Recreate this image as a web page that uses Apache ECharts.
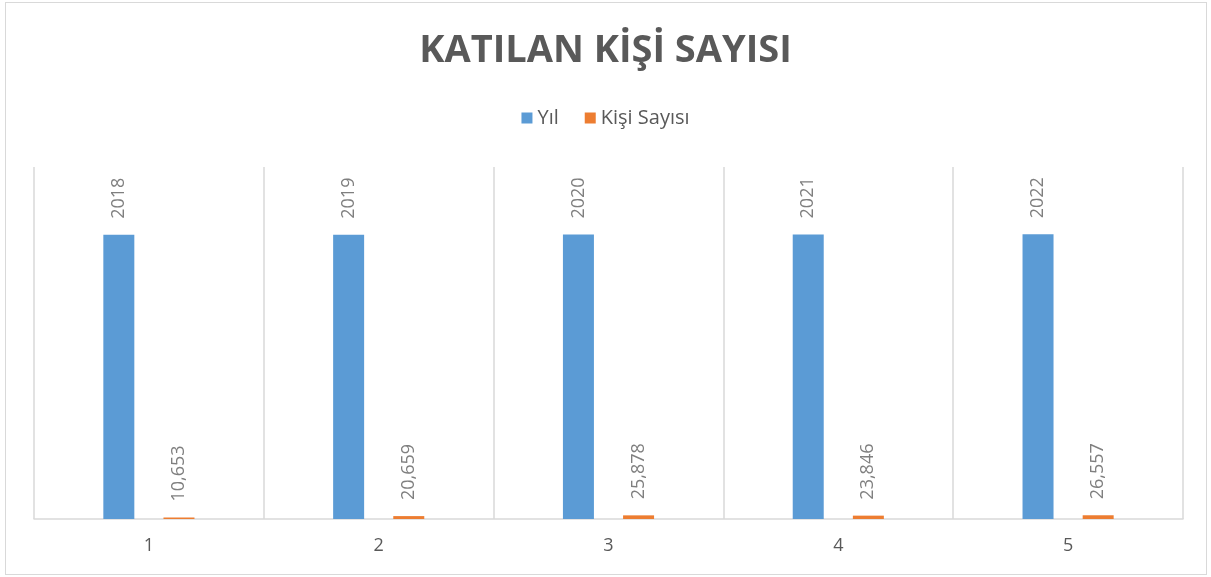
<!DOCTYPE html>
<html>
<head>
<meta charset="utf-8">
<script src="https://cdn.jsdelivr.net/npm/echarts@6/dist/echarts.min.js"></script>
<style>
  html, body { margin: 0; padding: 0; background: #fff; }
  #chart { width: 1211px; height: 577px; box-sizing: border-box; }
  #frame { position: absolute; left: 5px; top: 2px; width: 1202px; height: 573px; border: 1px solid #d9d9d9; box-sizing: border-box; pointer-events: none; }
</style>
</head>
<body>
<div id="chart"></div>
<div id="frame"></div>
<script>
const categories = ['1', '2', '3', '4', '5'];
const yilValues = [2018, 2019, 2020, 2021, 2022];
const kisiValues = [10.653, 20.659, 25.878, 23.846, 26.557];

const textGray = '#595959';
const labelGray = '#7f7f7f';

let chart = echarts.init(document.getElementById('chart'));

let option = {
    backgroundColor: '#fff',
    title: {
        text: 'KATILAN KİŞİ SAYISI',
        left: 'center',
        top: 27,
        textStyle: {
            fontFamily: 'Open Sans',
            fontWeight: 'bold',
            fontSize: 38,
            color: textGray
        }
    },
    legend: {
        top: 103,
        left: 'center',
        itemWidth: 11,
        itemHeight: 11,
        itemGap: 26,
        icon: 'rect',
        textStyle: {
            fontFamily: 'Open Sans',
            fontSize: 20,
            color: textGray
        },
        data: ['Yıl', 'Kişi Sayısı']
    },
    grid: {
        left: 34,
        right: 28,
        top: 167,
        bottom: 58
    },
    xAxis: {
        type: 'category',
        data: categories,
        boundaryGap: true,
        axisLine: { lineStyle: { color: '#d9d9d9', width: 1.5 } },
        axisTick: { show: false },
        splitLine: { show: true, lineStyle: { color: '#d9d9d9', width: 1.5 } },
        axisLabel: {
            fontFamily: 'Open Sans',
            fontSize: 18,
            color: textGray,
            margin: 18
        }
    },
    yAxis: {
        type: 'value',
        min: 0,
        max: 2500,
        show: false,
        splitLine: { show: false }
    },
    series: [
        {
            name: 'Yıl',
            type: 'bar',
            data: yilValues,
            barWidth: 31,
            barGap: '94%',
            itemStyle: { color: '#5b9bd5' },
            label: {
                show: true,
                position: 'top',
                rotate: 90,
                align: 'left',
                verticalAlign: 'middle',
                distance: 16,
                fontFamily: 'Open Sans',
                fontSize: 18,
                color: labelGray
            }
        },
        {
            name: 'Kişi Sayısı',
            type: 'bar',
            data: kisiValues,
            barWidth: 31,
            itemStyle: { color: '#ed7d31' },
            label: {
                show: true,
                position: 'top',
                rotate: 90,
                align: 'left',
                verticalAlign: 'middle',
                distance: 16,
                fontFamily: 'Open Sans',
                fontSize: 18,
                color: labelGray,
                formatter: (p) => p.value.toFixed(3).replace('.', ',')
            }
        }
    ]
};

chart.setOption(option);
</script>
</body>
</html>
